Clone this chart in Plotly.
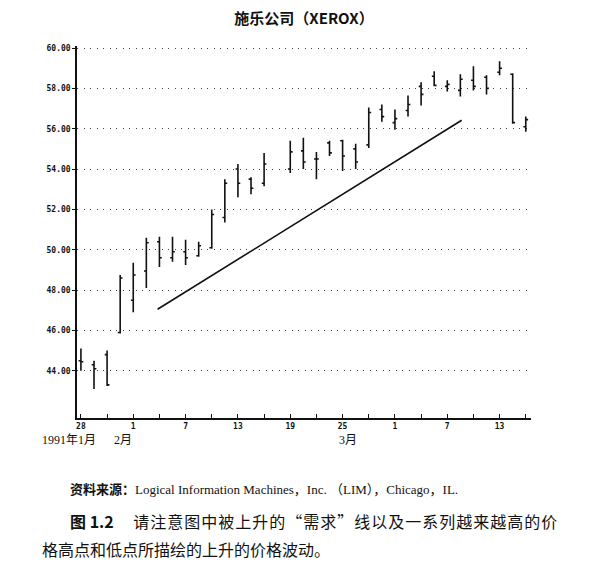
import plotly.graph_objs as go

# trading-day slots from 28 Jan 1991 (18 Feb was a holiday, no bar)
day_idx = [0, 1, 2, 3, 4, 5, 6, 7, 8, 9, 10, 11, 12, 13, 14,
           16, 17, 18, 19, 20, 21, 22, 23, 24, 25, 26, 27, 28, 29, 30, 31, 32, 33, 34]
opens = [44.5, 44.3, 44.8, 45.9, 47.5, 48.95, 50.4, 49.6, 49.9, 49.7, 50.1, 51.6, 54.0, 53.5, 53.3,
         54.0, 54.9, 54.5, 55.3, 55.4, 55.0, 55.2, 56.95, 56.3, 56.9, 58.1, 58.6, 58.1, 57.9, 58.4, 58.55, 58.8, 58.7, 56.1]
highs = [45.1, 44.5, 45.0, 48.75, 49.35, 50.6, 50.65, 50.65, 50.5, 50.4, 52.0, 53.5, 54.25, 53.6, 54.8,
         55.4, 55.55, 54.85, 55.4, 55.45, 55.25, 57.05, 57.2, 56.95, 57.65, 58.3, 58.85, 58.4, 58.7, 59.1, 58.65, 59.35, 58.75, 56.6]
lows = [44.0, 43.1, 43.25, 45.85, 46.9, 48.1, 49.15, 49.4, 49.25, 49.65, 50.05, 51.35, 52.6, 52.75, 53.15,
        53.8, 54.0, 53.5, 54.65, 53.9, 54.0, 55.05, 56.35, 55.95, 56.6, 57.15, 58.1, 57.85, 57.6, 57.9, 57.7, 58.65, 56.25, 55.85]
closes = [44.45, 44.1, 43.3, 48.6, 48.75, 50.35, 49.6, 49.9, 49.6, 50.2, 51.75, 53.3, 53.3, 53.05, 54.25,
          54.85, 54.35, 54.5, 54.8, 54.65, 54.35, 56.8, 56.6, 56.5, 57.2, 57.7, 58.15, 58.2, 58.45, 58.1, 58.0, 59.0, 56.3, 56.45]

# rising "demand" line
trend_x = [5.86, 29.1]
trend_y = [47.05, 56.42]

tick_pos = list(range(0, 35, 2))
tick_names = ['28', '', '1', '', '7', '', '13', '', '19', '', '25', '', '1', '', '7', '', '13', '']
price_ticks = [44, 46, 48, 50, 52, 54, 56, 58, 60]

cjk = "Liberation Serif, Noto Sans CJK SC"
sans_cjk = "Noto Sans CJK SC"

# caption, spread out a little like the printed (justified) line
caption_1 = '\u200a'.join('请注意图中被上升的“需求”线以及一系列越来越高的价')
caption_2 = '格高点和低点所描绘的上升的价格波动。'

bars = go.Ohlc(
    x=day_idx, open=opens, high=highs, low=lows, close=closes,
    increasing=dict(line=dict(color='#111', width=1.6)),
    decreasing=dict(line=dict(color='#111', width=1.6)),
    tickwidth=0.18, hoverinfo='skip', showlegend=False,
)

trend = go.Scatter(x=trend_x, y=trend_y, mode='lines',
                   line=dict(color='#111', width=1.6), showlegend=False)

# page body adds 8px of margin, so the figure is 8px smaller and shifted
layout = go.Layout(
    width=604, height=562,
    margin=dict(l=69, r=81, t=38, b=152),
    plot_bgcolor='white', paper_bgcolor='white',
    title=dict(text='<b>施乐公司（XEROX）</b>', x=0.49, xanchor='center', y=0.981, yanchor='middle',
               font=dict(family=sans_cjk, size=15, color='#111')),
    xaxis=dict(range=[-0.3, 34.4], tickvals=tick_pos, ticktext=tick_names,
               showgrid=False, zeroline=False, showline=True, linecolor='#111', linewidth=1.5,
               ticks='inside', ticklen=4, tickcolor='#111', tickwidth=1.2,
               tickfont=dict(family='DejaVu Sans Mono', size=8, color='#111', weight='bold'),
               rangeslider=dict(visible=False), fixedrange=True),
    yaxis=dict(range=[41.66, 60.1], tickvals=price_ticks,
               ticktext=['%.2f' % v for v in price_ticks],
               showgrid=True, gridcolor='#444', gridwidth=1, griddash='1px,5.5px',
               zeroline=False, showline=True, linecolor='#111', linewidth=1.5,
               ticks='outside', ticklen=3, tickcolor='#111',
               tickfont=dict(family='DejaVu Sans Mono', size=8, color='#111', weight='bold'),
               fixedrange=True),
)

notes = [
    dict(text='1991年1月', x=-0.082, y=-0.058, xanchor='left', font=dict(family=cjk, size=12)),
    dict(text='2月', x=0.077, y=-0.058, xanchor='left', font=dict(family=cjk, size=12)),
    dict(text='3月', x=0.573, y=-0.058, xanchor='left', font=dict(family=cjk, size=12)),
    dict(text='<b>资料来源：</b>Logical Information Machines，Inc. （LIM），Chicago，IL.',
         x=-0.02, y=-0.193, xanchor='left', font=dict(family=cjk, size=13)),
    dict(text='<b>图 1.2</b>　 ' + caption_1,
         x=-0.02, y=-0.277, xanchor='left', font=dict(family=sans_cjk, size=16)),
    dict(text=caption_2,
         x=-0.082, y=-0.352, xanchor='left', font=dict(family=sans_cjk, size=16)),
]
for n in notes:
    n.update(xref='paper', yref='paper', showarrow=False, yanchor='middle')
    n['font'].setdefault('color', '#111')

plot_figure = go.Figure(data=[bars, trend], layout=layout)
plot_figure.update_layout(annotations=notes)

plot_figure.write_html("out.html")
